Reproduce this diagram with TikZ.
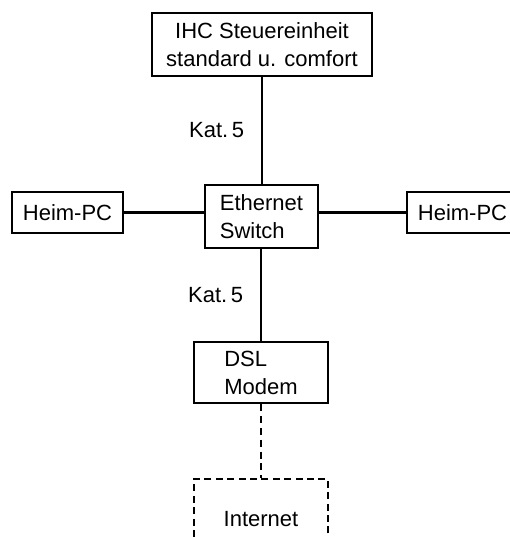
\documentclass[tikz,border=0pt]{standalone}
\usepackage{fontspec}
\setmainfont{Liberation Sans}
\usetikzlibrary{calc}
\tikzset{
  box/.style={draw,line width=1.4pt,inner sep=0pt,align=center,font=\fontsize{11}{14}\selectfont},
  lbox/.style={box,align=left},
  netbox/.style={box,dash pattern=on 3.5pt off 2.2pt},
  link/.style={line width=1.1pt},
  dashlink/.style={line width=1.4pt,dash pattern=on 3.5pt off 2.4pt},
  katlabel/.style={font=\fontsize{11}{14}\selectfont,left=5pt}
}
\begin{document}
\begin{tikzpicture}[x=0.5pt,y=-0.5pt]
  \useasboundingbox (0,0) rectangle (510,538);
  \clip (0,0) rectangle (510,538);
  % boxes
  \node[box,minimum width=110pt,minimum height=31.5pt] (ihc) at (262,44.5) {IHC Steuereinheit\\standard u. comfort};
  \node[lbox,minimum width=56.5pt,minimum height=31.5pt] (switch) at (261.5,216.5) {Ethernet\\Switch};
  \node[box,minimum width=55.5pt,minimum height=20.5pt] (pcleft) at (67.5,212.5) {Heim-PC};
  \node[box,minimum width=55.5pt,minimum height=20.5pt] (pcright) at (462.5,212.5) {Heim-PC};
  \node[lbox,minimum width=67pt,minimum height=30.5pt] (modem) at (261,372.5) {DSL\\Modem};
  \node[netbox,minimum width=67pt,minimum height=40pt] (internet) at (261,519) {Internet};
  % connections
  \draw[link] (ihc.south) -- (ihc.south |- switch.north) node[midway,katlabel] (kat1) {Kat.\,5};
  \draw[link] (switch.south -| modem.north) -- (modem.north) node[midway,katlabel] (kat2) {Kat.\,5};
  \draw[link] (pcleft.east) -- (pcleft.east -| switch.west);
  \draw[link] (switch.east |- pcright.west) -- (pcright.west);
  \draw[dashlink] (modem.south) -- (internet.north);
\end{tikzpicture}
\end{document}
